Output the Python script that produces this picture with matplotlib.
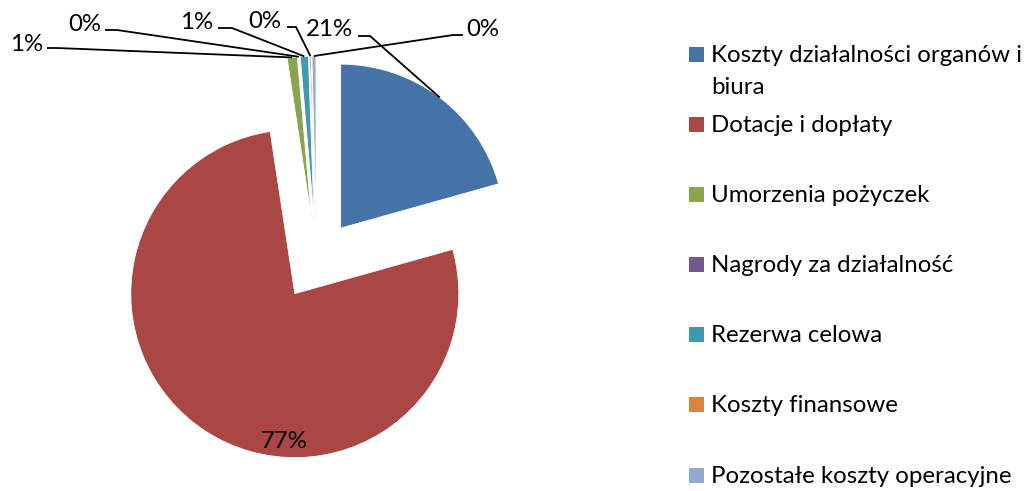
import matplotlib
matplotlib.use("Agg")
import matplotlib.pyplot as plt
from matplotlib.patches import Rectangle
import numpy as np

plt.rcParams['font.family'] = ['Lato', 'DejaVu Sans']

categories = ["Koszty działalności organów i\nbiura", "Dotacje i dopłaty", "Umorzenia pożyczek",
              "Nagrody za działalność", "Rezerwa celowa", "Koszty finansowe",
              "Pozostałe koszty operacyjne"]
values = [20.65, 76.95, 1.0, 0.05, 0.8, 0.15, 0.4]
colors = ["#4572A7", "#AA4643", "#89A54E", "#71588F", "#4198AF", "#DB843D", "#93A9CF"]

W, H = 1027, 491
fig = plt.figure(figsize=(W / 100, H / 100), dpi=100)
ax = fig.add_axes([0, 0, 1, 1])
ax.set_xlim(0, W)
ax.set_ylim(0, H)
ax.axis('off')

def P(x, y):
    # top-down pixel -> axes data coords
    return x, H - y

R = 164
cx, cy = P(316.5, 260)
offset = 40
wedges, _ = ax.pie(values, colors=colors, startangle=90, counterclock=False,
                   radius=R, center=(cx, cy), explode=[offset] * len(values),
                   wedgeprops=dict(edgecolor='white', linewidth=0.6), frame=False)
ax.set_xlim(0, W)
ax.set_ylim(0, H)
ax.set_aspect('equal')

total = sum(values)
pct = [f"{v / total * 100:.0f}%" for v in values]

fs = 17.3
# label layout: (text x, text y, ha, line start, elbow) in top-down pixels, None = inside label
label_layout = [
    (353, 29, 'right', (358, 36), (370, 36)),
    None,
    (43, 44, 'right', (47, 48), (57, 48)),
    (101, 24, 'right', (105, 30), (117, 30)),
    (213, 22, 'right', (218, 28), (232, 28)),
    (281, 21, 'right', (287, 27), (296, 27)),
    (466, 29, 'left', (463, 35), (453, 35)),
]
for w, lab, lay in zip(wedges, pct, label_layout):
    if lay is None:
        ax.text(*P(284, 441), lab, ha='center', va='center', fontsize=fs, color='black')
        continue
    tx, ty, ha, s, e = lay
    mid = np.deg2rad((w.theta1 + w.theta2) / 2)
    ex, ey = w.center[0] + w.r * np.cos(mid), w.center[1] + w.r * np.sin(mid)
    ax.text(*P(tx, ty), lab, ha=ha, va='center', fontsize=fs, color='black')
    xs = [P(*s)[0], P(*e)[0], ex]
    ys = [P(*s)[1], P(*e)[1], ey]
    ax.plot(xs, ys, color='black', lw=1.3, solid_capstyle='butt')

# legend
baselines = [62, 132, 202, 272, 342, 412, 483]
for lab, col, b in zip(categories, colors, baselines):
    ax.add_patch(Rectangle(P(689, b), 15, 15, facecolor=col, edgecolor='none'))
    lines = lab.split("\n")
    for i, ln in enumerate(lines):
        ax.text(*P(711, b + i * 32), ln, ha='left', va='baseline', fontsize=fs, color='black')

fig.savefig("out.png", dpi=100, facecolor='white')
